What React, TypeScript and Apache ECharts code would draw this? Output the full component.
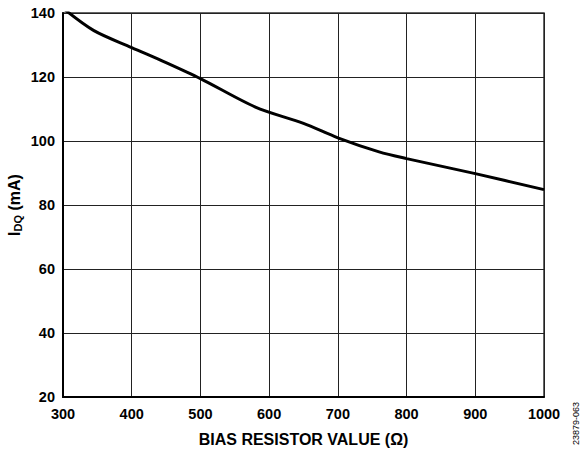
import React, { useEffect, useRef } from "react";
import * as echarts from "echarts";

const resistance = [300, 345, 400, 450, 500, 580, 650, 700, 760, 800, 900, 1000];
const idq = [141.5, 134.5, 129.2, 124.5, 119.5, 110.6, 105.5, 101, 96.6, 94.5, 89.8, 84.8];
const xTicks = [300, 400, 500, 600, 700, 800, 900, 1000];
const yTicks = [20, 40, 60, 80, 100, 120, 140];

export default function App() {
  const ref = useRef<HTMLDivElement>(null);
  useEffect(() => {
    const chart = echarts.init(ref.current!, null, { renderer: "svg" });
    const font = "'Liberation Sans', Arial, sans-serif";
    chart.setOption({
      animation: false,
      backgroundColor: "#fff",
      grid: {
        left: 63,
        right: 43,
        top: 13,
        bottom: 52,
        containLabel: false,
        outerBoundsMode: "none",
        show: true,
        borderColor: "#333",
        borderWidth: 1.5,
      },
      xAxis: {
        type: "value",
        min: xTicks[0],
        max: xTicks[xTicks.length - 1],
        interval: 100,
        name: "BIAS RESISTOR VALUE (Ω)",
        nameLocation: "middle",
        nameGap: 34,
        nameMoveOverlap: false,
        nameTextStyle: { fontFamily: font, fontWeight: "bold", fontSize: 16, color: "#000" },
        axisLine: { show: true, lineStyle: { color: "#000", width: 2 } },
        axisTick: { show: false },
        splitLine: { show: true, lineStyle: { color: "#222", width: 1 } },
        axisLabel: {
          fontFamily: font,
          fontWeight: "bold",
          fontSize: 14.5,
          color: "#000",
          margin: 9,
          formatter: (v: number) => String(v),
        },
      },
      yAxis: {
        type: "value",
        min: yTicks[0],
        max: yTicks[yTicks.length - 1],
        interval: 20,
        name: "{i|I}{sub|DQ}{i| (mA)}",
        nameLocation: "middle",
        nameGap: 40,
        nameRotate: 90,
        nameMoveOverlap: false,
        nameTextStyle: {
          rich: {
            i: { fontFamily: font, fontWeight: "bold", fontSize: 16, color: "#000" },
            sub: { fontFamily: font, fontWeight: "bold", fontSize: 11, color: "#000", verticalAlign: "bottom", padding: [7, 0, 0, 0] },
          },
        },
        axisLine: { show: true, lineStyle: { color: "#000", width: 2 } },
        axisTick: { show: false },
        splitLine: { show: true, lineStyle: { color: "#222", width: 1 } },
        axisLabel: {
          fontFamily: font,
          fontWeight: "bold",
          fontSize: 14.5,
          color: "#000",
          margin: 8,
          formatter: (v: number) => String(v),
        },
      },
      graphic: [
        {
          type: "text",
          x: 571,
          y: 445,
          rotation: Math.PI / 2,
          style: { text: "23879-063", fontFamily: font, fontSize: 9, fill: "#000", align: "left", verticalAlign: "top" },
        },
      ],
      series: [
        {
          type: "line",
          data: resistance.map((r, i) => [r, idq[i]]),
          smooth: 0.3,
          symbol: "none",
          clip: true,
          lineStyle: { color: "#000", width: 3 },
        },
      ],
    });
    return () => chart.dispose();
  }, []);
  return <div ref={ref} style={{ position: "absolute", left: 0, top: 0, width: 587, height: 449 }} />;
}
